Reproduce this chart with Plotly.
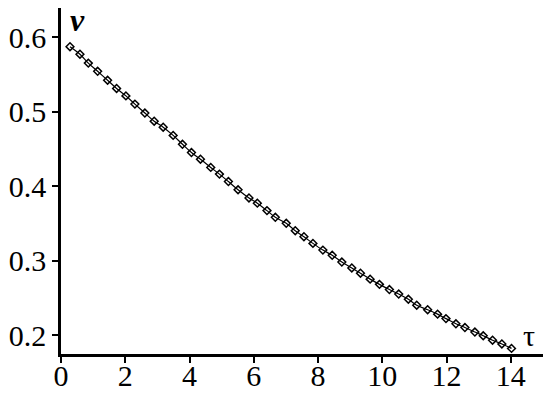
import plotly.graph_objects as go

# values
tau = [0.28, 0.59, 0.85, 1.14, 1.45, 1.73, 2.02, 2.30, 2.61, 2.90, 3.18, 3.49,
       3.78, 4.06, 4.34, 4.66, 4.93, 5.21, 5.51, 5.85, 6.11, 6.41, 6.67, 7.01,
       7.29, 7.56, 7.84, 8.15, 8.44, 8.74, 9.05, 9.32, 9.62, 9.91, 10.22, 10.51,
       10.81, 11.07, 11.41, 11.72, 11.98, 12.29, 12.57, 12.88, 13.14, 13.43, 13.72, 14.02]
v = [0.587, 0.577, 0.565, 0.554, 0.542, 0.531, 0.521, 0.510, 0.498, 0.487, 0.479, 0.468,
     0.456, 0.445, 0.436, 0.425, 0.416, 0.406, 0.395, 0.384, 0.377, 0.367, 0.358, 0.350,
     0.340, 0.332, 0.323, 0.314, 0.307, 0.298, 0.290, 0.283, 0.275, 0.268, 0.261, 0.255,
     0.248, 0.240, 0.234, 0.228, 0.222, 0.215, 0.210, 0.204, 0.199, 0.193, 0.188, 0.182]

x_ticks = [0, 2, 4, 6, 8, 10, 12, 14]
y_ticks = [0.2, 0.3, 0.4, 0.5, 0.6]

serif = "Liberation Serif"

fig = go.Figure()

# smooth curve
fig.add_trace(go.Scatter(
    x=tau, y=v, mode="lines", line=dict(color="black", width=1.2, shape="spline"),
    showlegend=False, hoverinfo="skip"
))

# sample points
fig.add_trace(go.Scatter(
    x=tau, y=v, mode="markers",
    marker=dict(symbol="diamond-open", size=6, color="black", line=dict(width=1.5)),
    showlegend=False
))

axis_style = dict(
    showline=True, linecolor="black", linewidth=2.5,
    ticks="outside", ticklen=6, tickwidth=1.5, tickcolor="black",
    showgrid=False, zeroline=False, automargin=False,
    tickfont=dict(family=serif, size=30, color="black"),
)

fig.update_layout(
    width=550, height=394,
    margin=dict(l=61, r=7, t=8, b=40),
    paper_bgcolor="white", plot_bgcolor="white",
    font=dict(family=serif, size=30, color="black"),
    xaxis=dict(range=[0, 15], tickvals=x_ticks,
               ticktext=[str(t) for t in x_ticks],
               ticklabelstandoff=-13, **axis_style),
    yaxis=dict(range=[0.1745, 0.639], tickvals=y_ticks,
               ticktext=[f"{t:.1f}" for t in y_ticks], **axis_style),
    annotations=[
        dict(text="<b><i>v</i></b>", x=0.5, y=1, xref="x", yref="paper",
             xanchor="center", yanchor="top", yshift=8, showarrow=False,
             font=dict(family=serif, size=32)),
        dict(text="τ", x=14.3, y=0.2, xref="x", yref="y",
             xanchor="left", yanchor="middle", showarrow=False,
             font=dict(family=serif, size=30)),
    ],
)

# drop the default page margin so the figure sits at the window's corner
fig.write_html("out.html", config={"displayModeBar": False},
               post_script="document.body.style.margin='0';")
